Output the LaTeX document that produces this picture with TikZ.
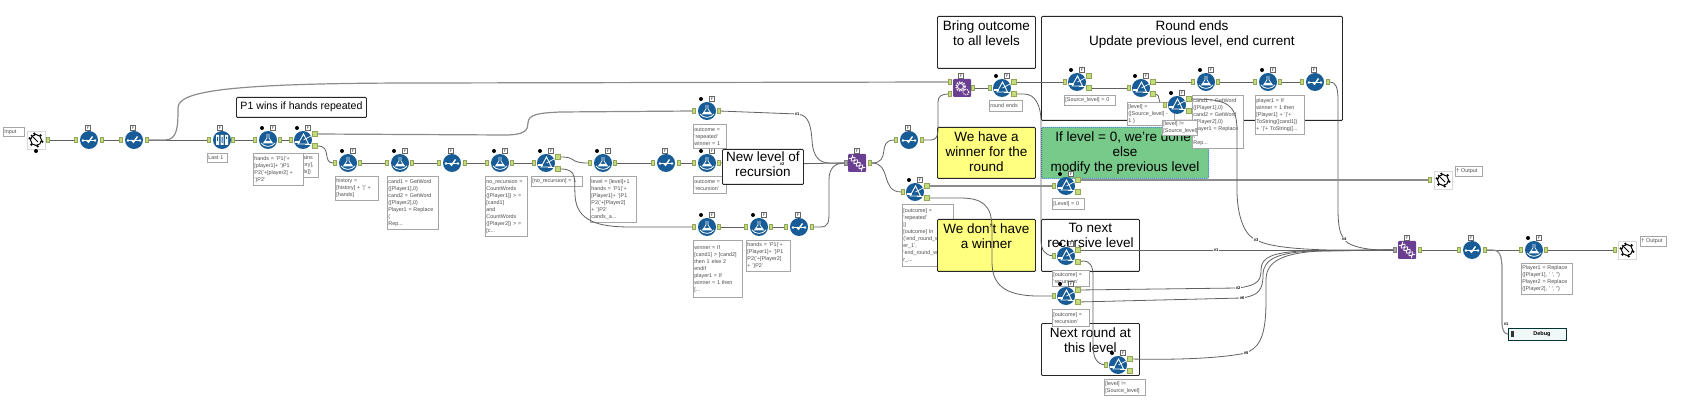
\documentclass[tikz,border=0pt]{standalone}
\usepackage{fontspec}
\setmainfont{Liberation Sans}
\usepackage{tikz}
\usetikzlibrary{calc}

\definecolor{toolblue}{HTML}{175C96}
\definecolor{toolpurple}{HTML}{6A3F92}
\definecolor{portgreen}{HTML}{C4DC78}
\definecolor{notegreen}{HTML}{78CA8A}
\definecolor{noteyellow}{HTML}{FFFF80}
\definecolor{selblue}{HTML}{1F6FBF}

\pgfdeclarelayer{back}
\pgfdeclarelayer{front}
\pgfdeclarelayer{top}
\pgfsetlayers{back,main,front,top}

\tikzset{
	tool/.style={circle,fill=toolblue,minimum size=18pt,inner sep=0pt},
	purpletool/.style={rectangle,rounded corners=1pt,fill=toolpurple,minimum size=18pt,inner sep=0pt},
	iotool/.style={rectangle,draw=black!15,line width=.7pt,fill=white,minimum size=18pt,inner sep=0pt},
	portin/.style={rectangle,draw=portgreen!75!black,line width=.3pt,fill=portgreen,minimum width=3pt,minimum height=5pt,inner sep=0pt},
	portfl/.style={portin,minimum width=5pt},
	blackdot/.style={circle,fill=black,minimum size=4pt,inner sep=0pt},
	cfgtag/.style={rectangle,draw=black!60,line width=.4pt,fill=white,minimum size=5pt,inner sep=0pt,font=\fontsize{3.5pt}{3.5pt}\selectfont},
	conn/.style={draw=black!62,line width=.8pt},
	connthick/.style={draw=black!45,line width=1.2pt},
	annot/.style={rectangle,draw=black!35,line width=.8pt,fill=white,anchor=north west,align=left,inner sep=1pt,text=black!70,font=\fontsize{5.4pt}{7pt}\selectfont},
	comment/.style={rectangle,draw=black!85,line width=.9pt,rounded corners=1pt,fill=white,anchor=north west,inner sep=0pt},
	ctext/.style={anchor=north,align=center,inner sep=1pt,yshift=-3.5pt,text=black,font=\fontsize{13.5pt}{15pt}\selectfont},
	tagnum/.style={inner sep=.5pt,fill=white,text=black,font=\fontsize{4pt}{4pt}\selectfont\bfseries},
	flaskglyph/.pic={
		\draw[white,line width=.7pt] (-1,-6) -- (-1,-2) -- (-4.5,3) -- (4.5,3) -- (1,-2) -- (1,-6);
		\fill[white] (-3,0.8) -- (3,0.8) -- (4.5,3) -- (-4.5,3) -- cycle;
		\draw[white,line width=.8pt] (-7,3) .. controls (-4,7.5) and (4,7.5) .. (7,3);
	},
	filterglyph/.pic={
		\draw[white,line width=.9pt] (0.5,-6) -- (-5,4) -- (5.5,4) -- cycle;
		\draw[white,line width=1.1pt] (-8,2) -- (-3,2);
		\draw[white,line width=.7pt] (0.5,0) -- (8,-4);
		\draw[white,line width=.7pt] (2,4) -- (8,4);
	},
	selectglyph/.pic={
		\fill[white] (-6,0.5) circle (1.3) (6,0.5) circle (1.3);
		\draw[white,line width=.7pt] (-6,0.5) -- (6,0.5);
		\draw[white,line width=1.4pt] (-2.5,0) -- (-.5,2.2) -- (3.5,-3.5);
	},
	sampleglyph/.pic={
		\fill[white] (-6,-5) rectangle (-3,5) (-1.5,-5) rectangle (1.5,5) (3,-5) rectangle (6,5);
		\fill[toolblue] (-5,-3) rectangle (-4,1) (-.5,-3) rectangle (.5,3) (4,-3) rectangle (5,-1);
	},
	helixglyph/.pic={
		\draw[white,line width=.8pt,rotate=-45] plot[domain=-9:9,samples=25,smooth] (\x,{2.5*sin(\x*50)});
		\draw[white,line width=.8pt,rotate=-45] plot[domain=-9:9,samples=25,smooth] (\x,{-2.5*sin(\x*50)});
	},
	gearglyph/.pic={
		\draw[white,line width=1.6pt,dash pattern=on 1.2pt off 1.2pt] (-1.5,-1.5) circle (4.5);
		\draw[white,line width=.8pt] (-1.5,-1.5) circle (3);
		\draw[white,line width=1.2pt,dash pattern=on 1pt off 1pt] (4,4) circle (2.8);
	},
	sprocketglyph/.pic={
		\draw[black,line width=1pt] (0,0) circle (5.5);
		\fill[black] (15:6.5) circle (1.3) (75:6.5) circle (1.3) (135:6.5) circle (1.3) (195:6.5) circle (1.3) (255:6.5) circle (1.3) (315:6.5) circle (1.3);
		\draw[black,line width=1pt] (-5,-5) -- (2,2);
	}
}

\newcommand{\fmtool}[3]{%
	\node[tool] (#1) at (#2,#3) {};
	\pic at (#2,#3) {flaskglyph};
	\node[portin] (#1i) at (#2-13,#3) {};
	\node[portin] (#1o) at (#2+12,#3) {};
	\node[blackdot] (#1d) at (#2-6,#3-12) {};
	\node[cfgtag] (#1c) at (#2+5,#3-12) {F};
}
\newcommand{\fltool}[3]{%
	\node[tool] (#1) at (#2,#3) {};
	\pic at (#2,#3) {filterglyph};
	\node[portin] (#1i) at (#2-12,#3) {};
	\node[portfl] (#1t) at (#2+12,#3-6) {};
	\node[portfl] (#1f) at (#2+12,#3+6) {};
	\node[blackdot] (#1d) at (#2-6,#3-12) {};
	\node[cfgtag] (#1c) at (#2+5,#3-12) {F};
}
\newcommand{\sltool}[3]{%
	\node[tool] (#1) at (#2,#3) {};
	\pic at (#2,#3) {selectglyph};
	\node[portin] (#1i) at (#2-13,#3) {};
	\node[portin] (#1o) at (#2+13,#3) {};
	\node[cfgtag] (#1c) at (#2-1,#3-12) {F};
}

\begin{document}
\begin{tikzpicture}[x=1pt,y=-1pt]
	\useasboundingbox (0,0) rectangle (1693,419);

	\begin{pgfonlayer}{back}
		\node[annot,text width=49pt,minimum height=62pt] (fl3n) at (902,204) {[outcome] =\\'repeated'\\||\\{}[outcome] In\\('end\_round\_winn\\er\_1',\\'end\_round\_winn\\r\_...};
		\node[comment,minimum width=130pt,minimum height=20pt] (c1) at (236,97) {};
		\node[ctext,font=\fontsize{10.6pt}{12pt}\selectfont] (c1t) at (c1.north) {P1 wins if hands repeated};
		\node[comment,minimum width=98pt,minimum height=52pt] (c2) at (937,16) {};
		\node[ctext] (c2t) at (c2.north) {Bring outcome\\to all levels};
		\node[comment,minimum width=301pt,minimum height=104pt] (c3) at (1041,16) {};
		\node[ctext] (c3t) at (c3.north) {Round ends\\Update previous level, end current};
		\node[comment,fill=noteyellow,minimum width=98pt,minimum height=51pt] (c4) at (937,127) {};
		\node[ctext] (c4t) at (c4.north) {We have a\\winner for the\\round};
		\node[comment,fill=notegreen,draw=selblue,dash pattern=on 1pt off 1pt,line width=1pt,minimum width=167pt,minimum height=51pt] (c5) at (1041,127) {};
		\node[ctext] (c5t) at (c5.north) {If level = 0, we're done,\\else\\modify the previous level};
		\node[comment,fill=noteyellow,minimum width=98pt,minimum height=52pt] (c6) at (937,219) {};
		\node[ctext] (c6t) at (c6.north) {We don't have\\a winner};
		\node[comment,minimum width=98pt,minimum height=52pt] (c7) at (1041,219) {};
		\node[ctext] (c7t) at (c7.north) {To next\\recursive level};
		\node[comment,minimum width=98pt,minimum height=52pt] (c8) at (1041,323) {};
		\node[ctext] (c8t) at (c8.north) {Next round at\\this level};
	\end{pgfonlayer}

	\begin{pgfonlayer}{front}
		\node[annot,text width=19pt,minimum height=9pt] (in1n) at (3,127) {Input};
		\node[iotool] (in1) at (36,140) {};
		\pic at (36,140) {sprocketglyph};
		\node[portin] (in1o) at (48,140) {};
		\node[blackdot] (in1d) at (36,151) {};
		\sltool{sl1}{89}{140}
		\sltool{sl2}{134}{140}
		\node[tool] (sm1) at (222,140) {};
		\pic at (222,140) {sampleglyph};
		\node[portin] (sm1i) at (209,140) {};
		\node[portin] (sm1o) at (233,140) {};
		\node[cfgtag] (sm1c) at (220,128) {F};
		\node[annot,text width=18pt,minimum height=9pt] (sm1n) at (207,153) {Last 1};
		\node[annot,text width=26pt,minimum height=24pt] (fl1n) at (290,153) {Contains\\([history],\\{}[hands])};
		\fmtool{fm1}{268}{140}
		\node[annot,text width=48pt,minimum height=32pt] (fm1n) at (253,153) {hands = 'P1('+\\{}[player1]+ ')P1\\P2('+[player2] +\\')P2'};
		\fltool{fl1}{303}{140}
		\fmtool{fm2}{348}{163}
		\node[annot,text width=41pt,minimum height=24pt] (fm2n) at (335,176) {history =\\{}[history] + '|' +\\{}[hands]};
		\fmtool{fm3}{400}{163}
		\node[annot,text width=49pt,minimum height=53pt] (fm3n) at (387,176) {cand1 = GetWord\\([Player1],0)\\cand2 = GetWord\\([Player2],0)\\Player1 = Replace\\(\\Rep...};
		\sltool{sl3}{452}{163}
		\fmtool{fm4}{500}{163}
		\node[annot,text width=40pt,minimum height=60pt] (fm4n) at (485,176) {no\_recursion =\\CountWords\\([Player1]) > =\\{}[cand1]\\and\\CountWords\\([Player2]) > =\\{}[c...};
		\fltool{fl2}{546}{163}
		\node[annot,text width=49pt,minimum height=10pt] (fl2n) at (531,176) {[no\_recursion] = 1};
		\fmtool{fm5}{603}{163}
		\node[annot,text width=44pt,minimum height=46pt] (fm5n) at (590,176) {level = [level]+1\\hands = 'P1('+\\{}[Player1]+ ')P1\\P2('+[Player2]\\+ ')P2'\\cands\_a...};
		\sltool{sl4}{666}{163}
		\fmtool{fm6}{707}{163}
		\node[annot,text width=31pt,minimum height=17pt] (fm6n) at (693,176) {outcome =\\'recursion'};
		\fmtool{fm7}{707}{111}
		\node[annot,text width=31pt,minimum height=24pt] (fm7n) at (693,124) {outcome =\\'repeated'\\winner = 1};
		\fmtool{fm8}{707}{227}
		\node[annot,text width=47pt,minimum height=57pt] (fm8n) at (693,240) {winner = If\\{}[cand1] > [cand2]\\then 1 else 2\\endif\\player1 = If\\winner = 1 then\\{}[...};
		\fmtool{fm9}{759}{227}
		\node[annot,text width=42pt,minimum height=31pt] (fm9n) at (746,240) {hands = 'P1('+\\{}[Player1]+ ')P1\\P2('+[Player2]\\+ ')P2'};
		\sltool{sl5}{799}{227}
		\node[purpletool] (un1) at (857,163) {};
		\pic at (857,163) {helixglyph};
		\node[portin,fill=black!35,draw=black!50] (un1i) at (846,163) {};
		\node[portin] (un1o) at (870,163) {};
		\node[cfgtag] (un1c) at (857,151) {F};
		\sltool{sl6}{909}{140}
		\fltool{fl3}{915}{192}
		\node[purpletool] (mc1) at (962,88) {};
		\pic at (962,88) {gearglyph};
		\node[portin] (mc1a) at (950,82) {};
		\node[portin] (mc1b) at (950,94) {};
		\node[portin] (mc1o) at (973,88) {};
		\node[cfgtag] (mc1c) at (961,76) {F};
		\fltool{fl4}{1002}{88}
		\node[annot,text width=31pt,minimum height=11pt] (fl4n) at (989,100) {round ends};
		\fltool{fl5}{1077}{82}
		\node[annot,text width=49pt,minimum height=10pt] (fl5n) at (1064,95) {[Source\_level] = 0};
		\fltool{fl6}{1141}{88}
		\node[annot,text width=45pt,minimum height=23pt] (fl6n) at (1127,102) {[level] =\\([Source\_level] -\\1 )};
		\fmtool{fm10}{1206}{82}
		\node[annot,text width=49pt,minimum height=53pt] (fm10n) at (1192,95) {cand1 = GetWord\\([Player1],0)\\cand2 = GetWord\\([Player2],0)\\Player1 = Replace\\(\\Rep...};
		\fltool{fl7}{1177}{105}
		\node[annot,text width=33pt,minimum height=15pt] (fl7n) at (1162,120) {[level] !=\\{}[Source\_level]};
		\fmtool{fm11}{1268}{82}
		\node[annot,text width=47pt,minimum height=39pt] (fm11n) at (1255,95) {player1 = If\\winner = 1 then\\{}[Player1] + '|'+\\ToString([cand1])\\+ '|'+ ToString([...};
		\sltool{sl7}{1315}{82}
		\fltool{fl8}{1066}{186}
		\node[annot,text width=30pt,minimum height=11pt] (fl8n) at (1052,198) {[Level] = 0};
		\fltool{fl9}{1066}{256}
		\node[annot,text width=35pt,minimum height=16pt] (fl9n) at (1052,270) {[outcome] =\\'recursion'};
		\fltool{fl10}{1066}{296}
		\node[annot,text width=35pt,minimum height=17pt] (fl10n) at (1052,309) {[outcome] =\\'recursion'};
		\fltool{fl11}{1118}{365}
		\node[annot,text width=39pt,minimum height=16pt] (fl11n) at (1104,379) {[level] !=\\{}[Source\_level]};
		\node[iotool] (out1) at (1443,180) {};
		\pic at (1443,180) {sprocketglyph};
		\node[portin] (out1i) at (1430,180) {};
		\node[annot,text width=25pt,minimum height=10pt] (out1n) at (1455,166) {† Output};
		\node[purpletool] (un2) at (1407,250) {};
		\pic at (1407,250) {helixglyph};
		\node[portin,fill=black!35,draw=black!50] (un2i) at (1395,250) {};
		\node[portin] (un2o) at (1420,250) {};
		\node[cfgtag] (un2c) at (1407,238) {F};
		\sltool{sl8}{1472}{250}
		\fmtool{fm12}{1534}{250}
		\node[annot,text width=49pt,minimum height=31pt] (fm12n) at (1521,263) {Player1 = Replace\\([Player1], ' ', '')\\Player2 = Replace\\([Player2], ' ', '')};
		\node[iotool] (out2) at (1627,250) {};
		\pic at (1627,250) {sprocketglyph};
		\node[portin] (out2i) at (1615,250) {};
		\node[annot,text width=24pt,minimum height=10pt] (out2n) at (1640,236) {† Output};
		\node[rectangle,draw=black!60!teal,line width=.9pt,fill=teal!6,anchor=north west,minimum width=58pt,minimum height=12pt,inner sep=0pt,font=\fontsize{5.5pt}{6pt}\selectfont\bfseries] (dbg) at (1508,328) {\hspace{9pt}Debug};
		\node[rectangle,fill=black!80,minimum width=3pt,minimum height=6pt,inner sep=0pt] (dbgi) at (1512,334) {};
	\end{pgfonlayer}

	\begin{pgfonlayer}{top}
		\node[comment,minimum width=81pt,minimum height=35pt] (c9) at (722,149) {};
		\node[ctext,yshift=2pt] (c9t) at (c9.north) {New level of\\recursion};
		\node[tagnum] (a1) at (797,114) {\#1};
		\node[tagnum] (a2) at (782,164) {\#2};
		\node[tagnum] (a3) at (1256,240) {\#3};
		\node[tagnum] (a4) at (1344,239) {\#4};
		\node[tagnum] (b1) at (1216,250) {\#1};
		\node[tagnum] (b2) at (1238,288) {\#2};
		\node[tagnum] (b3) at (1242,298) {\#6};
		\node[tagnum] (b4) at (1246,353) {\#5};
		\node[tagnum,fill=none] (b5) at (1506,324) {\#1};
	\end{pgfonlayer}

	\draw[conn] (in1o) -- (sl1i);
	\draw[conn] (sl1o) -- (sl2i);
	\draw[conn] (sl2o) -- (sm1i);
	\draw[conn] (sm1o) -- (fm1i);
	\draw[conn] (fm1o) -- (fl1i);
	\draw[connthick] (sl2o) -- (165,140) .. controls (178,140) and (178,125) .. (178,108) .. controls (178,92) and (220,83) .. (420,83) -- (mc1a);
	\draw[connthick] (fl1t) -- (505,135) .. controls (525,135) and (528,130) .. (528,123) .. controls (528,114) and (540,113) .. (560,112) -- (fm7i);
	\draw[conn] (fl1f) .. controls (332,146) and (322,163) .. (fm2i);
	\draw[conn] (fm2o) -- (fm3i);
	\draw[conn] (fm3o) -- (sl3i);
	\draw[conn] (sl3o) -- (fm4i);
	\draw[conn] (fm4o) -- (fl2i);
	\draw[conn] (fl2t) .. controls (578,157) and (568,163) .. (fm5i);
	\draw[conn] (fm5o) -- (sl4i);
	\draw[conn] (sl4o) -- (fm6i);
	\draw[conn] (fm6o) -- (a2);
	\draw[conn] (a2) -- (un1i);
	\draw[conn] (fm7o) -- (a1);
	\draw[conn] (a1) .. controls (808,116) and (811,125) .. (812,140) .. controls (813,158) and (820,163) .. (830,163) -- (un1i);
	\draw[conn] (fm8o) -- (fm9i);
	\draw[conn] (fm9o) -- (sl5i);
	\draw[conn] (sl5o) -- (820,227) .. controls (829,227) and (829,222) .. (829,210) -- (829,180) .. controls (829,168) and (835,163) .. (un1i);
	\draw[conn] (un1o) .. controls (892,163) and (876,140) .. (sl6i);
	\draw[conn] (un1o) .. controls (892,163) and (880,192) .. (fl3i);
	\draw[conn] (sl6o) -- (930,140) .. controls (937,140) and (938,136) .. (938,128) -- (938,102) .. controls (938,96) and (942,94) .. (mc1b);
	\draw[conn] (mc1o) -- (fl4i);
	\draw[conn] (fl4t) -- (fl5i);
	\draw[conn] (fl4f) -- (1024,94) .. controls (1035,94) and (1041,105) .. (1041,122) -- (1041,240) .. controls (1041,250) and (1045,255) .. (fl9i);
	\draw[conn] (fl5f) -- (fl6i);
	\draw[conn] (fl6t) -- (fm10i);
	\draw[conn] (fl6f) .. controls (1161,94) and (1157,105) .. (fl7i);
	\draw[conn] (fm10o) -- (fm11i);
	\draw[conn] (fm11o) -- (sl7i);
	\draw[conn] (a3) .. controls (1270,246) and (1290,249) .. (1330,250) -- (un2i);
	\draw[conn] (sl7o) -- (1330,82) .. controls (1336,82) and (1338,88) .. (1338,100) -- (1338,210) .. controls (1338,225) and (1340,233) .. (a4);
	\draw[conn] (a4) .. controls (1350,246) and (1365,250) .. (1385,250) -- (un2i);
	\draw[connthick] (fl3t) -- (fl8i);
	\draw[connthick] (fl8t) -- (out1i);
	\draw[conn] (fl3f) -- (960,198) .. controls (982,198) and (992,205) .. (992,228) -- (992,262) .. controls (992,285) and (1005,295) .. (1035,296) -- (fl10i);
	\draw[conn] (fl9t) -- (b1);
	\draw[conn] (b1) -- (un2i);
	\draw[conn] (fl9f) -- (1083,261) .. controls (1090,261) and (1093,266) .. (1093,276) -- (1093,345) .. controls (1093,358) and (1097,364) .. (fl11i);
	\draw[conn] (fl10t) -- (b2);
	\draw[conn] (b2) .. controls (1258,285) and (1261,280) .. (1261,270) .. controls (1261,256) and (1275,253) .. (1300,251) -- (un2i);
	\draw[conn] (fl10f) -- (b3);
	\draw[conn] (b3) .. controls (1258,295) and (1263,290) .. (1263,275) .. controls (1263,258) and (1280,253) .. (1310,251) -- (un2i);
	\draw[conn] (fl11t) .. controls (1180,360) and (1220,358) .. (b4);
	\draw[conn] (b4) .. controls (1262,345) and (1266,330) .. (1266,300) -- (1266,280) .. controls (1266,260) and (1285,253) .. (1320,251) -- (un2i);
	\draw[conn] (un2o) -- (sl8i);
	\draw[conn] (sl8o) -- (fm12i);
	\draw[conn] (fm12o) -- (out2i);
	\draw[connthick] (sl8o) -- (1492,250) .. controls (1500,250) and (1502,256) .. (1502,270) -- (1502,322) .. controls (1502,330) and (1504,334) .. (dbg);

	\begin{pgfonlayer}{top}
		\draw[conn] (fl2f) .. controls (578,169) and (574,180) .. (575,195) .. controls (576,222) and (600,227) .. (630,227) -- (fm8i);
		\draw[conn] (fl7t) .. controls (1225,99) and (1237,103) .. (1237,130) -- (1237,190) .. controls (1237,215) and (1244,233) .. (a3);
	\end{pgfonlayer}
\end{tikzpicture}
\end{document}
